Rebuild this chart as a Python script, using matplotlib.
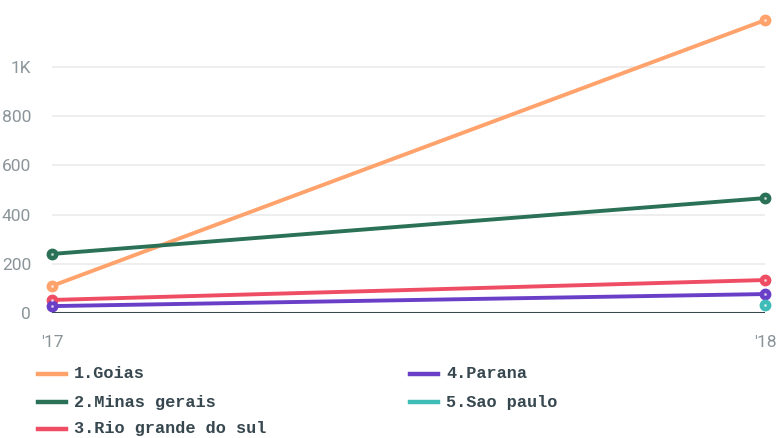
import matplotlib
matplotlib.use("Agg")
import matplotlib.pyplot as plt
from matplotlib.lines import Line2D

years = ["'17", "'18"]
series_names = ["1.Goias", "2.Minas gerais", "3.Rio grande do sul", "4.Parana", "5.Sao paulo"]
goias = [110, 1190]
minas = [240, 467]
rio = [53, 134]
parana = [28, 77]
sao_paulo = [None, 33]
colors = ["#FFA26B", "#2A7157", "#EF4D63", "#6A3FC8", "#3FBCB8"]
yticks = [0, 200, 400, 600, 800, 1000]
ytick_labels = ["0", "200", "400", "600", "800", "1K"]

values = [goias, minas, rio, parana, sao_paulo]

W, H = 778, 438
fig = plt.figure(figsize=(W / 100, H / 100), dpi=100)
ax = fig.add_axes([52 / W, (H - 313) / H, (765 - 52) / W, 313 / H])

tick_font = ['Liberation Sans Narrow', 'Roboto', 'DejaVu Sans']
mono = ['Liberation Mono', 'DejaVu Sans Mono']

xs = list(range(len(years)))
for name, vals, c in zip(series_names, values, colors):
    px = [x for x, v in zip(xs, vals) if v is not None]
    py = [v for v in vals if v is not None]
    if len(px) > 1:
        ax.plot(px, py, color=c, lw=2.8, solid_capstyle='round', zorder=3, clip_on=False)
    ax.plot(px, py, 'o', color=c, ms=7.5, zorder=4, clip_on=False)
    ax.plot(px, py, 'o', color='white', ms=1.2, alpha=0.5, zorder=5, clip_on=False)

ax.set_xlim(0, 1)
ax.set_ylim(0, 1272)
ax.set_yticks(yticks)
ax.set_yticklabels(ytick_labels)
ax.set_xticks(xs)
ax.set_xticklabels(years)
for s in ax.spines.values():
    s.set_visible(False)
ax.grid(axis='y', color='#EBEBEB', lw=1.2, zorder=0)
ax.tick_params(axis='both', length=0, colors='#8A9499', labelsize=12.5)
ax.tick_params(axis='y', pad=15)
ax.tick_params(axis='x', pad=16)
for lab in ax.get_xticklabels() + ax.get_yticklabels():
    lab.set_fontfamily(tick_font)
ax.axhline(0, color='#37474F', lw=2.2, zorder=2)

# legend
rows = [374, 402, 429]
positions = []
for i in range(len(series_names)):
    col = 0 if i < 3 else 1
    row = i if i < 3 else i - 3
    positions.append((col, rows[row]))
col_x = [(38, 66, 74), (410, 438, 446)]
for (col, yp), name, c in zip(positions, series_names, colors):
    x0, x1, xt = col_x[col]
    fy = 1 - yp / H
    fig.add_artist(Line2D([x0 / W, x1 / W], [fy, fy], color=c, lw=3.2, transform=fig.transFigure))
    fig.text(xt / W, fy, name, color='#37474F', fontsize=12.2, fontweight='bold',
             family=mono, va='center', ha='left')

fig.savefig("out.png", dpi=100)
